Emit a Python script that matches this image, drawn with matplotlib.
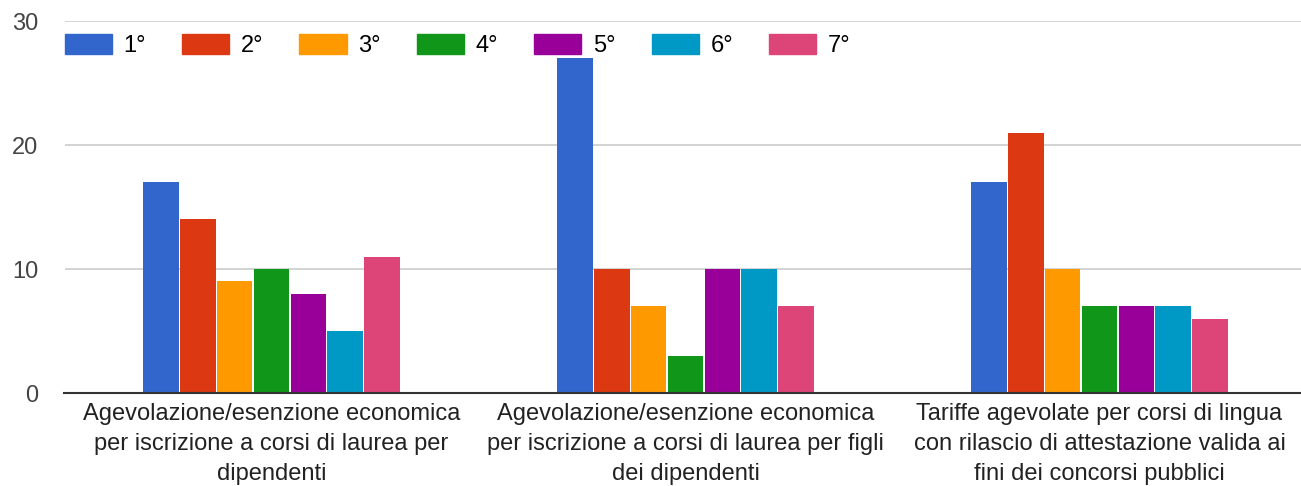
import matplotlib
matplotlib.use("Agg")
import matplotlib.pyplot as plt
import numpy as np
from matplotlib.patches import Patch

categories = [
    "Agevolazione/esenzione economica\nper iscrizione a corsi di laurea per\ndipendenti",
    "Agevolazione/esenzione economica\nper iscrizione a corsi di laurea per figli\ndei dipendenti",
    "Tariffe agevolate per corsi di lingua\ncon rilascio di attestazione valida ai\nfini dei concorsi pubblici",
]
series_names = ["1°", "2°", "3°", "4°", "5°", "6°", "7°"]
values = [
    [17, 27, 17],
    [14, 10, 21],
    [9, 7, 10],
    [10, 3, 7],
    [8, 10, 7],
    [5, 10, 7],
    [11, 7, 6],
]
colors = ["#3366cc", "#dc3912", "#ff9900", "#109618", "#990099", "#0099c6", "#dd4477"]
yticks = [0, 10, 20, 30]

plt.rcParams['font.family'] = ['Liberation Sans', 'DejaVu Sans']

W, H = 1301, 486
fig = plt.figure(figsize=(W / 100, H / 100), dpi=100)
ax = fig.add_axes([64.5 / W, 1 - 393 / H, (1306.5 - 64.5) / W, (393 - 21) / H])

n = len(series_names)
x = np.arange(len(categories))
group_w = 0.622
bw = group_w / n
for i, (name, vals, c) in enumerate(zip(series_names, values, colors)):
    pos = x - group_w / 2 + bw * (i + 0.5)
    ax.bar(pos, vals, width=bw * 0.96, color=c, label=name, zorder=3)

ax.set_xlim(-0.5, len(categories) - 0.5)
ax.set_ylim(0, 30)
ax.set_yticks(yticks)
ax.set_yticklabels([str(v) for v in yticks], fontsize=17, color="#444444")
ax.set_xticks(x)
ax.set_xticklabels(categories, fontsize=17, color="#222222", linespacing=1.48)
ax.tick_params(axis='both', length=0)
ax.tick_params(axis='y', pad=18.7)
ax.tick_params(axis='x', pad=7)
ax.grid(axis='y', color="#cccccc", linewidth=1.2, zorder=0)
for s in ["top", "right", "left"]:
    ax.spines[s].set_visible(False)
ax.spines["bottom"].set_color("#333333")
ax.spines["bottom"].set_linewidth(1.5)
ax.spines["bottom"].set_zorder(4)

handles = [Patch(facecolor=c, edgecolor=c, label=nm) for nm, c in zip(series_names, colors)]
leg = ax.legend(handles=handles, loc='upper left', bbox_to_anchor=(0.0, 0.965),
                ncol=7, frameon=False, fontsize=17, handlelength=2.0, handleheight=0.93,
                handletextpad=0.5, columnspacing=1.52, borderaxespad=0, borderpad=0)

fig.savefig("out.png", dpi=100, facecolor="white")
